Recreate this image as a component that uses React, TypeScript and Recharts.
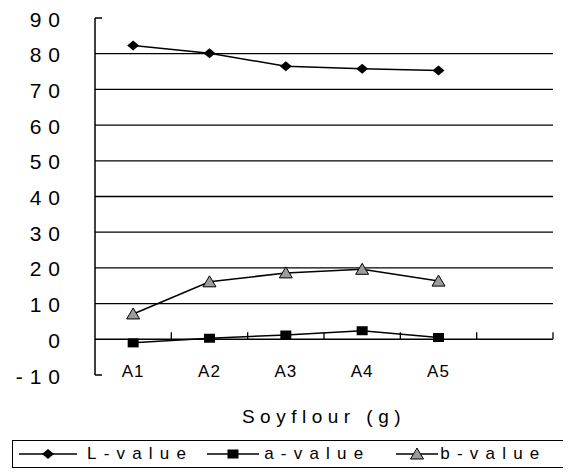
import { LineChart, Line, XAxis, YAxis, CartesianGrid, ReferenceLine, Legend, Label } from 'recharts';

const CATEGORIES = ['A1', 'A2', 'A3', 'A4', 'A5', ''];
const L_VALUES = [82.3, 80.1, 76.5, 75.8, 75.3];
const A_VALUES = [-1.0, 0.3, 1.2, 2.4, 0.5];
const B_VALUES = [7.1, 16.1, 18.6, 19.6, 16.3];
const Y_TICKS = [-10, 0, 10, 20, 30, 40, 50, 60, 70, 80, 90];
const GRID_VALUES = [10, 20, 30, 40, 50, 60, 70, 80];

const FONT = '"Liberation Sans", Arial, sans-serif';

const data = CATEGORIES.map((cat, i) => ({
  cat,
  L: L_VALUES[i] ?? null,
  a: A_VALUES[i] ?? null,
  b: B_VALUES[i] ?? null,
}));

function Diamond({ cx, cy }: any) {
  return <polygon points={`${cx},${cy - 5} ${cx + 6},${cy} ${cx},${cy + 5} ${cx - 6},${cy}`} fill="#000" />;
}
function Square({ cx, cy }: any) {
  return <rect x={cx - 5.5} y={cy - 4.5} width={11} height={9} fill="#000" />;
}
function Triangle({ cx, cy }: any) {
  return <polygon points={`${cx},${cy - 6} ${cx + 6.5},${cy + 5} ${cx - 6.5},${cy + 5}`} fill="#9c9c9c" stroke="#000" strokeWidth={1} />;
}

const dotOf = (Shape: any) => (props: any) => {
  if (props.value == null || props.cy == null) return <g key={props.key} />;
  return <Shape key={props.key} cx={props.cx} cy={props.cy} />;
};

/* zero line of the category axis, with small upward ticks at every category boundary */
function ZeroAxis(p: any) {
  const left = Math.min(p.x1, p.x2), right = Math.max(p.x1, p.x2);
  const step = (right - left) / CATEGORIES.length;
  return (
    <g stroke="#000" strokeWidth={1.5}>
      <line x1={left} y1={p.y1} x2={right} y2={p.y1} />
      {CATEGORIES.map((c, i) => (
        <line key={i} x1={left + step * (i + 1)} y1={p.y1} x2={left + step * (i + 1)} y2={p.y1 - 7} strokeWidth={1.3} />
      ))}
    </g>
  );
}

/* the short stubs at 90 and -10 on the value axis */
function EndTick(p: any) {
  const left = Math.min(p.x1, p.x2);
  return <line x1={left} y1={p.y1} x2={left + 7} y2={p.y1} stroke="#000" strokeWidth={1.5} />;
}

function YTick({ x, y, payload }: any) {
  return (
    <text x={x - 28} y={y + 1} textAnchor="end" dominantBaseline="central"
      fontSize={21} fontFamily={FONT} letterSpacing={7} fill="#000">
      {payload.value}
    </text>
  );
}

function XTick({ x, y, payload }: any) {
  return (
    <text x={x} y={y - 4} textAnchor="middle" dominantBaseline="central"
      fontSize={17} fontFamily={FONT} letterSpacing={1} fill="#000">
      {payload.value}
    </text>
  );
}

const LEGEND_ITEMS = [
  { label: 'L-value', Shape: Diamond, gapBefore: 6, line: 58, gapAfter: 10 },
  { label: 'a-value', Shape: Square, gapBefore: 14, line: 52, gapAfter: 5 },
  { label: 'b-value', Shape: Triangle, gapBefore: 26, line: 42, gapAfter: 2 },
];

function LegendBox() {
  return (
    <div style={{
      boxSizing: 'border-box', width: 554, height: 28, border: '1.5px solid #000',
      display: 'flex', alignItems: 'center', whiteSpace: 'nowrap', overflow: 'hidden',
      fontFamily: FONT, fontSize: 17, letterSpacing: 7.2, color: '#000',
    }}>
      {LEGEND_ITEMS.map(it => (
        <div key={it.label} style={{ display: 'flex', alignItems: 'center', marginLeft: it.gapBefore, flexShrink: 0 }}>
          <svg width={it.line} height={16} style={{ flexShrink: 0 }}>
            <line x1={0} y1={8} x2={it.line} y2={8} stroke="#000" strokeWidth={1.5} />
            <it.Shape cx={it.line / 2} cy={8} />
          </svg>
          <span style={{ marginLeft: it.gapAfter, lineHeight: '20px' }}>{it.label}</span>
        </div>
      ))}
    </div>
  );
}

export default function App() {
  return (
    <LineChart width={563} height={464} data={data} margin={{ top: 10, right: 18, left: 0, bottom: 4 }}>
      <CartesianGrid vertical={false} horizontalValues={GRID_VALUES} stroke="#000" strokeWidth={1.3} />
      <XAxis dataKey="cat" scale="band" axisLine={false} tickLine={false} tickSize={0} tickMargin={0} height={65}
        tick={<XTick />} interval={0}>
        <Label value="Soyflour (g)" position="insideBottom" offset={17}
          style={{ fontSize: 19, fontFamily: FONT, letterSpacing: 5.5, fill: '#000' }} />
      </XAxis>
      <YAxis domain={[-10, 90]} ticks={Y_TICKS} width={87} tickLine={false} tickSize={0} tickMargin={0}
        axisLine={{ stroke: '#000', strokeWidth: 1.5 }} tick={<YTick />} interval={0} />
      <ReferenceLine y={0} shape={ZeroAxis} />
      <ReferenceLine y={90} shape={EndTick} />
      <ReferenceLine y={-10} shape={EndTick} />
      <Legend verticalAlign="bottom" content={<LegendBox />} wrapperStyle={{ left: 4, width: 554 }} />
      <Line dataKey="L" name="L-value" stroke="#000" strokeWidth={1.5} dot={dotOf(Diamond)} isAnimationActive={false} />
      <Line dataKey="a" name="a-value" stroke="#000" strokeWidth={1.5} dot={dotOf(Square)} isAnimationActive={false} />
      <Line dataKey="b" name="b-value" stroke="#000" strokeWidth={1.5} dot={dotOf(Triangle)} isAnimationActive={false} />
    </LineChart>
  );
}
